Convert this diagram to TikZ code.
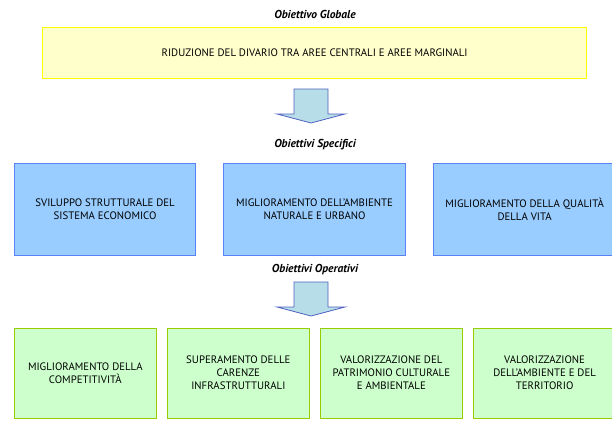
\documentclass[tikz,border=0pt]{standalone}
\usepackage{fontspec}
\setmainfont{PT Sans}
\usetikzlibrary{positioning}
\definecolor{ylwfill}{HTML}{FFFFCC}
\definecolor{ylwline}{HTML}{FFFF00}
\definecolor{bluefill}{HTML}{99CCFF}
\definecolor{blueline}{HTML}{5B82F5}
\definecolor{grnfill}{HTML}{CCFFCC}
\definecolor{grnline}{HTML}{99CC00}
\definecolor{arrfill}{HTML}{B7DEE8}
\definecolor{arrline}{HTML}{5060C0}
\tikzset{
  box/.style={draw, line width=1.2pt, inner sep=0pt, align=center, font=\fontsize{10.8}{13}\selectfont, anchor=north west},
  ybox/.style={box, fill=ylwfill, draw=ylwline},
  bbox/.style={box, fill=bluefill, draw=blueline},
  gbox/.style={box, fill=grnfill, draw=grnline},
  ttl/.style={font=\fontsize{11.5}{12}\selectfont\bfseries\itshape, inner sep=0pt},
  bigarrow/.style={fill=arrfill, draw=arrline, line width=0.8pt, line join=miter}
}
\begin{document}
\begin{tikzpicture}[x=1pt,y=-1pt]
\useasboundingbox (0,0) rectangle (612,420);
\node[ttl] (tg) at (315,14) {Obiettivo Globale};
\node[ybox, minimum width=544pt, minimum height=51pt] (g) at (42,27) {RIDUZIONE DEL DIVARIO TRA AREE CENTRALI E AREE MARGINALI};
\coordinate (a1) at (311,89);
\draw[bigarrow] (a1) ++(-17,0) -- ++(34,0) -- ++(0,25) -- ++(17,0) -- ++(-34,9) -- ++(-34,-9) -- ++(17,0) -- cycle;
\node[ttl] (ts) at (315,145) {Obiettivi Specifici};
\node[bbox, minimum width=181pt, minimum height=92pt] (s1) at (14,162.5) {SVILUPPO STRUTTURALE DEL\\SISTEMA ECONOMICO};
\node[bbox, minimum width=182pt, minimum height=92pt] (s2) at (223,162.5) {MIGLIORAMENTO DELL'AMBIENTE\\NATURALE E URBANO};
\node[bbox, minimum width=182pt, minimum height=92pt] (s3) at (433,162.5) {MIGLIORAMENTO DELLA QUALITÀ\\DELLA VITA};
\node[ttl] (to) at (315,270) {Obiettivi Operativi};
\coordinate (a2) at (311,282);
\draw[bigarrow] (a2) ++(-17,0) -- ++(34,0) -- ++(0,25) -- ++(17,0) -- ++(-34,9) -- ++(-34,-9) -- ++(17,0) -- cycle;
\node[gbox, minimum width=141.5pt, minimum height=90pt] (o1) at (14,327.5) {MIGLIORAMENTO DELLA\\COMPETITIVITÀ};
\node[gbox, minimum width=141.5pt, minimum height=90pt] (o2) at (167,327.5) {SUPERAMENTO DELLE\\CARENZE\\INFRASTRUTTURALI};
\node[gbox, minimum width=141.5pt, minimum height=90pt] (o3) at (320,327.5) {VALORIZZAZIONE DEL\\PATRIMONIO CULTURALE\\E AMBIENTALE};
\node[gbox, minimum width=142pt, minimum height=90pt] (o4) at (473,327.5) {VALORIZZAZIONE\\DELL'AMBIENTE E DEL\\TERRITORIO};
\end{tikzpicture}
\end{document}
